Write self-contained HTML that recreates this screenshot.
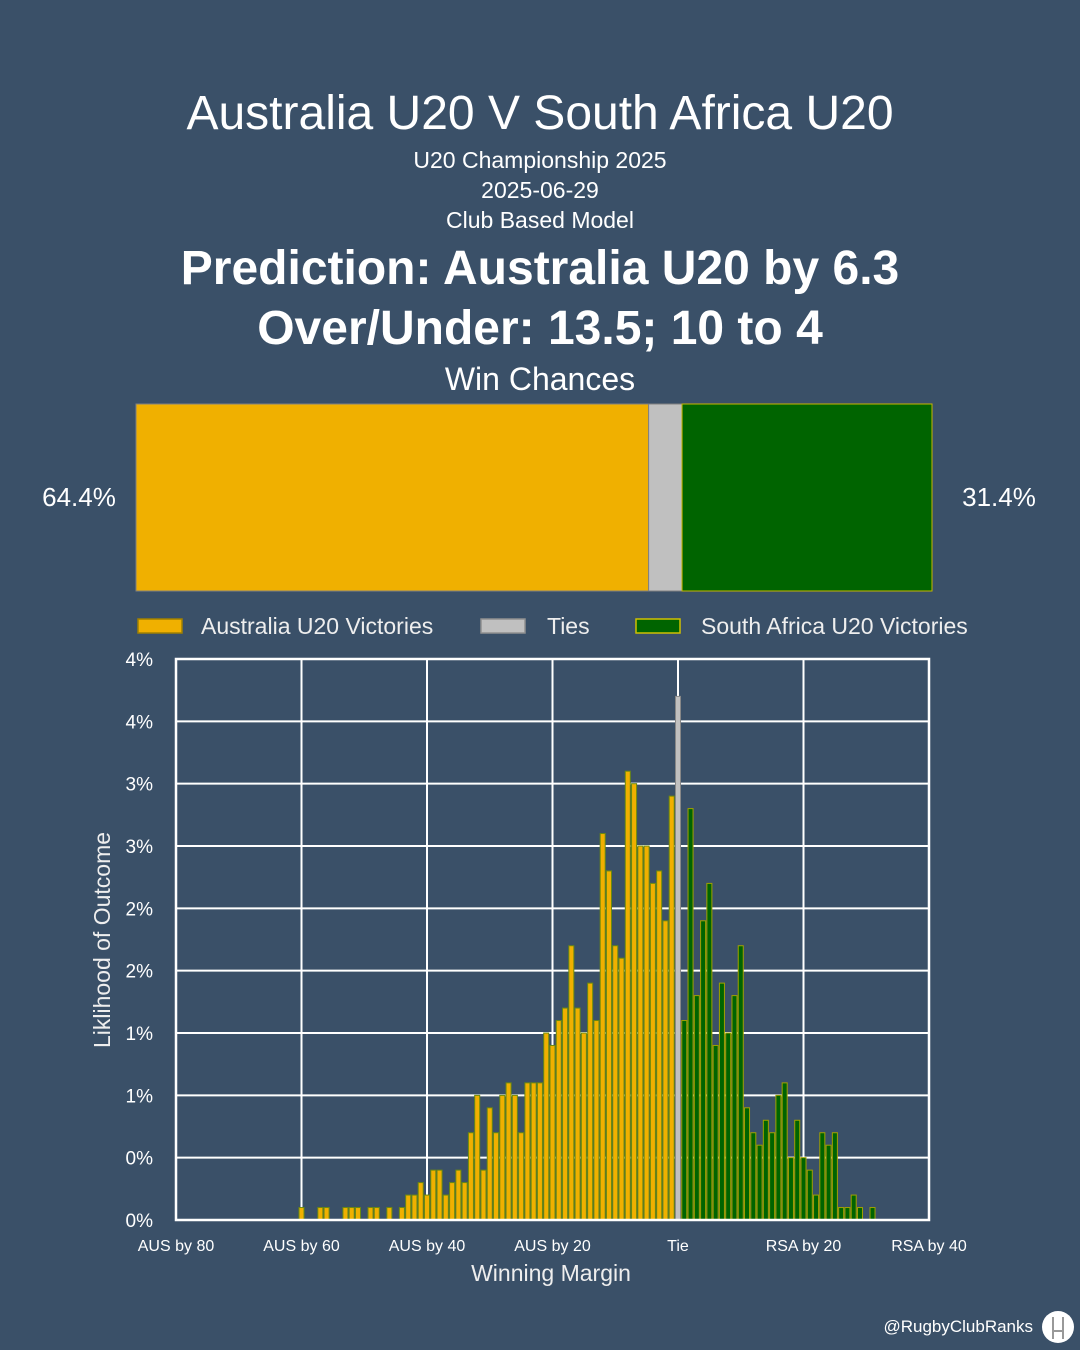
<!DOCTYPE html>
<html><head><meta charset="utf-8"><style>
html,body{margin:0;padding:0}
body{width:1080px;height:1350px;background:#3a5068;position:relative;overflow:hidden;font-family:"Liberation Sans",sans-serif;color:#fff}
.t{position:absolute;left:0;width:1080px;text-align:center;white-space:nowrap}
</style></head><body>
<div class="t" style="top:86px;font-size:48px">Australia U20 V South Africa U20</div>
<div class="t" style="top:147px;font-size:23px">U20 Championship 2025</div>
<div class="t" style="top:177px;font-size:23px">2025-06-29</div>
<div class="t" style="top:207px;font-size:23px">Club Based Model</div>
<div class="t" style="top:241px;font-size:48px;font-weight:bold">Prediction: Australia U20 by 6.3</div>
<div class="t" style="top:301px;font-size:48px;font-weight:bold">Over/Under: 13.5; 10 to 4</div>
<div class="t" style="top:361px;font-size:32px">Win Chances</div>
<svg id="c" width="1080" height="1350" style="position:absolute;left:0;top:0"></svg>
<script>
const winLabels=["64.4%","31.4%"];
const winShares=[64.4,4.2,31.4];
const margins=[];for(let m=-60;m<=31;m++)margins.push(m);
const ausVals=[0.1,0,0,0.1,0.1,0,0,0.1,0.1,0.1,0,0.1,0.1,0,0.1,0,0.1,0.2,0.2,0.3,0.2,0.4,0.4,0.2,0.3,0.4,0.3,0.7,1.0,0.4,0.9,0.7,1.0,1.1,1.0,0.7,1.1,1.1,1.1,1.5,1.4,1.6,1.7,2.2,1.7,1.5,1.9,1.6,3.1,2.8,2.2,2.1,3.6,3.5,3.0,3.0,2.7,2.8,2.4,3.4];
const tieVal=[4.2];
const rsaVals=[1.6,3.3,1.8,2.4,2.7,1.4,1.9,1.5,1.8,2.2,0.9,0.7,0.6,0.8,0.7,1.0,1.1,0.5,0.8,0.5,0.4,0.2,0.7,0.6,0.7,0.1,0.1,0.2,0.1,0,0.1];
const yTicks=[0,0.5,1,1.5,2,2.5,3,3.5,4,4.5];
const yTickLabels=["0%","0%","1%","1%","2%","2%","3%","3%","4%","4%"];
const xTicks=[-80,-60,-40,-20,0,20,40];
const xTickLabels=["AUS by 80","AUS by 60","AUS by 40","AUS by 20","Tie","RSA by 20","RSA by 40"];
const svg=document.getElementById('c');const NS='http://www.w3.org/2000/svg';
function mk(t,a,txt){const e=document.createElementNS(NS,t);for(const k in a)e.setAttribute(k,a[k]);if(txt!=null)e.textContent=txt;svg.appendChild(e);return e;}
const bx0=136,bx1=932,by=404,bh=187;const tot=winShares.reduce((a,b)=>a+b,0);
const wcols=["#f0b000","#c0c0c0","#006400"];const wnames=["aus-win-bar","tie-bar","rsa-win-bar"];
let cx=bx0;
winShares.forEach((v,i)=>{const w=v/tot*(bx1-bx0);const r=mk('rect',{x:cx,y:by,width:w,height:bh,fill:wcols[i],stroke:i==2?'#c8b400':'#808080','stroke-width':1});

cx+=w;});
let l=mk('text',{x:79,y:506,'font-size':26,fill:'#fff','text-anchor':'middle'},winLabels[0]);


l=mk('text',{x:999,y:506,'font-size':26,fill:'#fff','text-anchor':'middle'},winLabels[1]);


const leg=[[138,'#f0b000','#a08000',201,'Australia U20 Victories'],[481,'#c0c0c0','#909090',547,'Ties'],[636,'#006400','#d0c000',701,'South Africa U20 Victories']];
leg.forEach((g,i)=>{const r=mk('rect',{x:g[0],y:619,width:44,height:14,fill:g[1],stroke:g[2],'stroke-width':1.5});


const t=mk('text',{x:g[3],y:634,'font-size':23,fill:'#eee'},g[4]);

});
const X0=176,X1=929,Y0=1220,Y1=659,xmin=-80,xmax=40,ymax=4.5;
const sx=m=>X0+(m-xmin)/(xmax-xmin)*(X1-X0);
const sy=v=>Y0-v/ymax*(Y0-Y1);
yTicks.forEach((v,i)=>{const g=mk('line',{x1:X0,x2:X1,y1:sy(v),y2:sy(v),stroke:'#fff','stroke-width':2});


const t=mk('text',{x:153,y:sy(v)+7,'font-size':19,fill:'#fff','text-anchor':'end'},yTickLabels[i]);

});
xTicks.forEach((v,i)=>{const g=mk('line',{x1:sx(v),x2:sx(v),y1:Y1,y2:Y0,stroke:'#fff','stroke-width':2});


const t=mk('text',{x:sx(v),y:1251,'font-size':16,fill:'#fff','text-anchor':'middle'},xTickLabels[i]);

});
const bw=(X1-X0)/(xmax-xmin)*0.8;
function bar(m,v,fill,stroke,name){if(v<=0)return;const b=mk('rect',{x:sx(m)-bw/2,y:sy(v),width:bw,height:Y0-sy(v),fill:fill,stroke:stroke,'stroke-width':1});

}
ausVals.forEach((v,i)=>bar(margins[i],v,'#f0b000','#6b8a10','bar-aus'));
bar(0,tieVal[0],'#c0c0c0','#888','bar-tie');
rsaVals.forEach((v,i)=>bar(i+1,v,'#006400','#a0a000','bar-rsa'));
const fr=mk('rect',{x:X0,y:Y1,width:X1-X0,height:Y0-Y1,fill:'none',stroke:'#fff','stroke-width':2.5});


l=mk('text',{x:0,y:0,'font-size':23,fill:'#eee','text-anchor':'middle',transform:'translate(110,940) rotate(-90)'},'Liklihood of Outcome');


l=mk('text',{x:551,y:1281,'font-size':23,fill:'#eee','text-anchor':'middle'},'Winning Margin');


l=mk('text',{x:1033,y:1332,'font-size':17,fill:'#fff','text-anchor':'end'},'@RugbyClubRanks');


const lg=mk('circle',{cx:1058,cy:1327,r:16,fill:'#fff'});


mk('path',{d:'M1053 1317 V1339 M1063 1317 V1339 M1053 1331 H1063',stroke:'#999','stroke-width':2,fill:'none'});
</script>
</body></html>
